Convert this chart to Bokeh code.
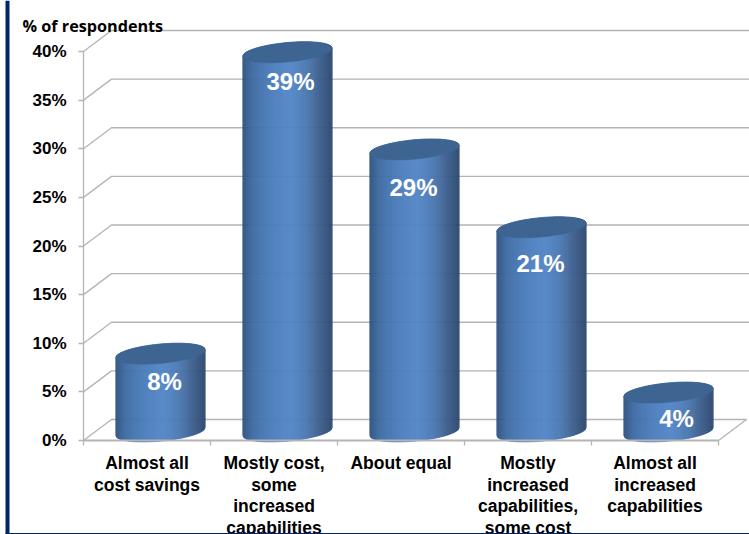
import numpy as np
from bokeh.core.properties import value
from bokeh.embed import file_html
from bokeh.models import BoxAnnotation, ColumnDataSource, FixedTicker, LinearAxis, Range1d
from bokeh.plotting import figure
from bokeh.resources import INLINE

categories = [
    "Almost all\ncost savings",
    "Mostly cost,\nsome\nincreased\ncapabilities",
    "About equal",
    "Mostly\nincreased\ncapabilities,\nsome cost",
    "Almost all\nincreased\ncapabilities",
]
percentages = [8, 39, 29, 21, 4]
label_drop_px = [28, 29, 38, 36, 26]
label_shift_px = [4, 3, -1, -1, 8]
tick_values = [0, 5, 10, 15, 20, 25, 30, 35, 40]

W, H = 749, 534
AXIS_X, FLOOR_Y = 83, 440     # pixel position of the chart origin
CAT_PX, PCT_PX = 127, 9.725   # pixels per category and per percentage point
xr = Range1d(-AXIS_X / CAT_PX, (W - AXIS_X) / CAT_PX)
yr = Range1d((FLOOR_Y - H) / PCT_PX, FLOOR_Y / PCT_PX)

p = figure(width=W, height=H, x_range=xr, y_range=yr, output_backend="svg",
           toolbar_location=None, min_border=0, outline_line_color=None,
           background_fill_color="white", border_fill_color="white",
           x_axis_type=None, y_axis_type=None)
p.grid.visible = False

# Perspective wall: each level runs back from the axis, then along the rear wall
DX, DY = 28 / CAT_PX, 21 / PCT_PX
n = len(categories)
GRID = "#b4b4b4"
wall_xs, wall_ys = [], []
for t in tick_values:
    wall_xs.append([0, DX, (W + 2 - AXIS_X) / CAT_PX if t else n + DX])
    wall_ys.append([t, t + DY, t + DY])
p.multi_line(wall_xs, wall_ys, line_color=GRID, line_width=1.3)
p.line([n, n + DX], [0, DY], line_color=GRID, line_width=1.3)

# Value axis and category axis sit on the chart origin
y_axis = LinearAxis(fixed_location=0, ticker=FixedTicker(ticks=tick_values), bounds=(0, 40))
y_axis.major_label_overrides = {t: f"{t}%" for t in tick_values}
y_axis.major_label_text_font = "Liberation Sans"
y_axis.major_label_text_font_style = "bold"
y_axis.major_label_text_font_size = "17px"
y_axis.major_label_text_color = "#000000"
y_axis.major_label_standoff = 12
y_axis.axis_line_color = GRID
y_axis.axis_line_width = 1.3
y_axis.major_tick_line_color = GRID
y_axis.major_tick_line_width = 1.3
y_axis.major_tick_out = 5
y_axis.major_tick_in = 0
y_axis.minor_tick_line_color = None
p.add_layout(y_axis, "left")

x_axis = LinearAxis(fixed_location=0, ticker=FixedTicker(ticks=list(range(n + 1))), bounds=(0, n))
x_axis.major_label_overrides = {i: "" for i in range(n + 1)}
x_axis.axis_line_color = GRID
x_axis.axis_line_width = 1.8
x_axis.major_tick_line_color = GRID
x_axis.major_tick_line_width = 1.3
x_axis.major_tick_out = 5
x_axis.major_tick_in = 0
x_axis.minor_tick_line_color = None
p.add_layout(x_axis, "below")

# Cylinders are shaded with narrow vertical strips across their width
CENTER = (160 - AXIS_X) / CAT_PX
A = 44.75 / CAT_PX            # half width
B = 9.7 / PCT_PX              # half height of the elliptical caps
TILT = 4 / PCT_PX             # rise of the caps from left to right
BASE = 9 / PCT_PX             # cap centre above the floor line

stops = [0.0, 0.12, 0.35, 0.55, 0.72, 0.88, 1.0]
reds = [0x2f, 0x3f, 0x4c, 0x53, 0x4b, 0x3a, 0x2e]
greens = [0x52, 0x6c, 0x7e, 0x87, 0x78, 0x5c, 0x4a]
blues = [0x80, 0xa5, 0xbd, 0xc8, 0xb0, 0x8a, 0x70]


def shade(f):
    return "#%02x%02x%02x" % tuple(int(round(np.interp(f, stops, c))) for c in (reds, greens, blues))


STRIPS = 90
edges = np.linspace(-1, 1, STRIPS + 1)
strip_xs, strip_ys, strip_colors = [], [], []
cap_xs, cap_ys = [], []
angle = np.linspace(0, 2 * np.pi, 100)
for i, v in enumerate(percentages):
    cx = i + CENTER
    for j in range(STRIPS):
        u0, u1 = edges[j], edges[j + 1]
        low = [TILT * u - B * np.sqrt(1 - u * u) for u in (u0, u1)]
        high = [TILT * u + B * np.sqrt(1 - u * u) for u in (u0, u1)]
        strip_xs.append([cx + A * u0, cx + A * u1, cx + A * u1, cx + A * u0])
        strip_ys.append([BASE + low[0], BASE + low[1], BASE + v + high[1], BASE + v + high[0]])
        strip_colors.append(shade((u0 + u1 + 2) / 4))
    cap_xs.append(list(cx + A * np.cos(angle)))
    cap_ys.append(list(BASE + v + TILT * np.cos(angle) + B * np.sin(angle)))

p.patches(strip_xs, strip_ys, fill_color=strip_colors, line_color=strip_colors, line_width=0.6)
p.patches(cap_xs, cap_ys, fill_color="#3e6492", line_color="#3e6492", line_width=0.5)

# Value labels printed on the cylinders
label_src = ColumnDataSource(dict(
    x=[i + CENTER + s / CAT_PX for i, s in enumerate(label_shift_px)],
    y=[BASE + v - d / PCT_PX for v, d in zip(percentages, label_drop_px)],
    text=[f"{v}%" for v in percentages],
))
p.text("x", "y", "text", source=label_src, text_color="white", text_align="center",
       text_baseline="middle", text_font=value("Liberation Sans"), text_font_style="bold",
       text_font_size="24px")

# Category names under the axis
p.text([i + 0.5 for i in range(n)], [-1.3] * n, categories, text_align="center",
       text_baseline="top", text_color="#000000", text_font=value("Liberation Sans"),
       text_font_style="bold", text_font_size="17.5px", text_line_height=1.08)

# Axis caption
p.text([(22 - AXIS_X) / CAT_PX], [(FLOOR_Y - 25) / PCT_PX], ["% of respondents"], text_align="left",
       text_baseline="middle", text_color="#000000", text_font=value("Open Sans"),
       text_font_style="bold", text_font_size="16.2px")

# Slide frame: navy rules on the left and top edges
p.add_layout(BoxAnnotation(left=5, right=9, top=0, bottom=H, left_units="screen", right_units="screen",
                           top_units="screen", bottom_units="screen", fill_color="#00246b",
                           fill_alpha=1, line_color=None))
p.add_layout(BoxAnnotation(left=5, right=W, top=0, bottom=1.5, left_units="screen", right_units="screen",
                           top_units="screen", bottom_units="screen", fill_color="#00246b",
                           fill_alpha=1, line_color=None))

open("out.html", "w").write(file_html(p, INLINE))
